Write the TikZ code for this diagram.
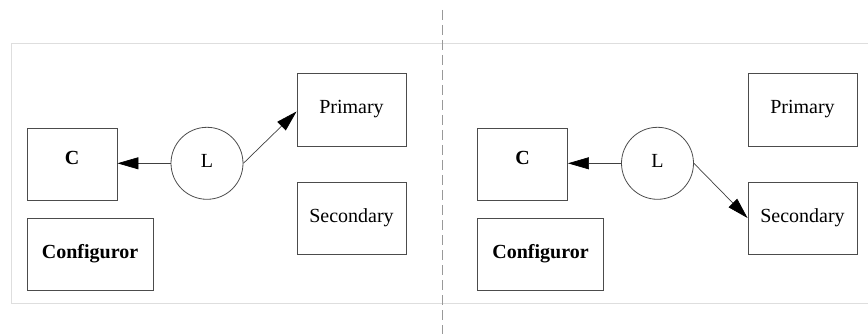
\documentclass[tikz,border=0pt]{standalone}
\usepackage{fontspec}
\setmainfont{Liberation Serif}
\usetikzlibrary{arrows.meta}
\tikzset{
  box/.style={draw=black!70, line width=0.9pt, inner sep=0pt, minimum width=#1, minimum height=72pt, text height=14pt, text depth=5pt, font=\fontsize{20}{22}\selectfont},
  box/.default=90pt,
  lcirc/.style={draw=black!70, line width=0.8pt, circle, inner sep=0pt, minimum size=72pt, text height=14pt, text depth=5pt, font=\fontsize{20}{22}\selectfont},
  conn/.style={draw=black!75, line width=0.7pt, -{Triangle[length=21pt,width=12pt,color=black,fill=black]}},
  panel/.style={draw=black!13, line width=0.8pt},
  divider/.style={draw=black!40, line width=1pt, dash pattern=on 10pt off 5pt}
}
\begin{document}
\begin{tikzpicture}[x=1pt,y=-1pt]
\useasboundingbox (0,0) rectangle (868,334);
% panel frame
\coordinate (ftl) at (11,43);
\coordinate (fbl) at (11,303);
\coordinate (ftr) at (868,43);
\coordinate (fbr) at (868,303);
\draw[panel] (ftr) -- (ftl) -- (fbl) -- (fbr);
% divider
\coordinate (dtop) at (442,10);
\coordinate (dbot) at (442,334);
\draw[divider] (dtop) -- (dbot);
% left panel
\node[box, text height=9pt, text depth=7pt] (c1) at (72,164) {\textbf{C}};
\node[box=126pt] (cfg1) at (90,254) {\textbf{Configuror}};
\node[lcirc] (l1) at (207,163.3) {L};
\node[box=109pt, minimum height=73pt] (p1) at (351.5,109.5) {Primary};
\node[box=109pt] (s1) at (351.5,218) {Secondary};
\draw[conn] (l1.west) -- (l1.west -| c1.east);
\draw[conn] (l1.east) -- ([yshift=-2pt]p1.west);
% right panel
\node[box, text height=9pt, text depth=7pt] (c2) at (522.5,164) {\textbf{C}};
\node[box=126pt] (cfg2) at (540.5,254) {\textbf{Configuror}};
\node[lcirc] (l2) at (657.5,163.3) {L};
\node[box=109pt, minimum height=73pt] (p2) at (802.5,109.5) {Primary};
\node[box=109pt] (s2) at (802.5,218) {Secondary};
\draw[conn] (l2.west) -- (l2.west -| c2.east);
\draw[conn] (l2.east) -- (s2.west);
\end{tikzpicture}
\end{document}
